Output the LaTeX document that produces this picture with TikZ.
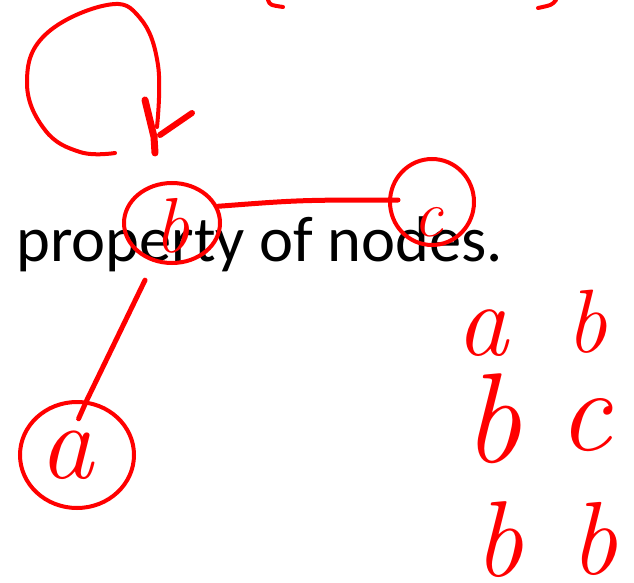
\documentclass[tikz,border=0pt]{standalone}
\usepackage{fontspec}
\newfontfamily\slidefont{Carlito}
\usetikzlibrary{shapes.geometric,calc}
\begin{document}
\begin{tikzpicture}[x=1pt,y=-1pt,
  ink/.style={draw=red,line width=5pt,line cap=round,line join=round},
  circ/.style={ellipse,draw=red,line width=4pt,inner sep=0pt},
  hand/.style={text=red,inner sep=0pt,anchor=base}]
\useasboundingbox[fill=white] (0,0) rectangle (634,583);
% slide text
\node[anchor=base west,inner sep=0pt,font=\slidefont\fontsize{64.5}{64.5}\selectfont] (t) at (16,261) {property of nodes.};
% node circles
\node[circ,minimum width=96pt,minimum height=80pt] (b) at (172,223) {};
\node[circ,minimum width=84pt,minimum height=86pt] (c) at (432,202) {};
\node[circ,minimum width=114pt,minimum height=106pt] (a) at (77,455) {};
% letters in nodes
\node[hand,font=\itshape\fontsize{78}{78}\selectfont] (lb) at (172,252) {b};
\node[hand,font=\itshape\fontsize{66}{66}\selectfont] (lc) at (428,236) {c};
\node[hand,font=\itshape\fontsize{108}{108}\selectfont] (la) at (66,478) {a};
% edges
\draw[ink] (b.20) .. controls (300,200) .. ($(c.180)+(10,-2)$);
\draw[ink,shorten <=20pt] (b.245) -- (a.80) -- ++(-8,18);
% self loop
\coordinate (tip) at (155,153);
\draw[ink,line width=4pt] plot[smooth,tension=0.7] coordinates {(115,153) (80,152) (45,130) (27,83) (45,35) (107,5) (140,18) (158,65) (157,127)};
\draw[ink,line width=7pt] (145,100) -- (154,137) -- (tip);
\draw[ink,line width=6pt] (192,113) -- (160,135);
% clipped strokes at top
\draw[ink,line width=4pt] (268,0) .. controls (270,5) .. (283,7);
\draw[ink,line width=4pt] (556,0) .. controls (552,5) .. (538,8);
% right side letter pairs
\node[hand,font=\itshape\fontsize{104}{104}\selectfont] (r1a) at (482,355) {a};
\node[hand,font=\itshape\fontsize{90}{90}\selectfont] (r1b) at (587,352) {b};
\node[hand,font=\itshape\fontsize{128}{128}\selectfont] (r2b) at (492,462) {b};
\node[hand,font=\itshape\fontsize{118}{118}\selectfont] (r2c) at (585,450) {c};
\node[hand,font=\itshape\fontsize{108}{108}\selectfont] (r3b) at (499,576) {b};
\node[hand,font=\itshape\fontsize{104}{104}\selectfont] (r3bb) at (594,574) {b};
\end{tikzpicture}
\end{document}
